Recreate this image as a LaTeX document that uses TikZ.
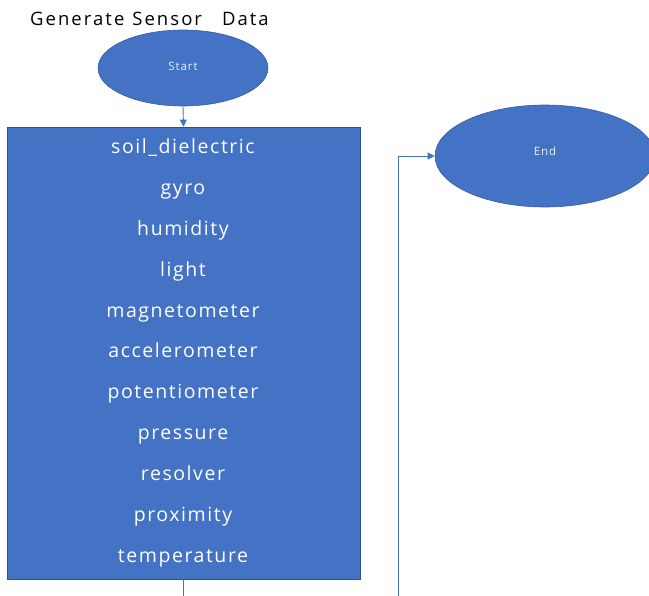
\documentclass[tikz,border=0pt]{standalone}
\usepackage{fontspec}
\setmainfont{Open Sans}
\newfontfamily\spacedfont{Open Sans}[LetterSpace=8]
\newfontfamily\titlefont{Open Sans}[LetterSpace=11]
\usetikzlibrary{arrows.meta,shapes.geometric}
\definecolor{boxblue}{HTML}{4472C4}
\definecolor{edgeblue}{HTML}{2F528F}
\definecolor{linkblue}{HTML}{4472C4}
\begin{document}
\begin{tikzpicture}[x=1pt,y=-1pt,
  term/.style={ellipse,fill=boxblue,draw=boxblue!80!black,line width=0.6pt,inner sep=0pt,text=white!90!boxblue,font=\spacedfont\fontsize{11.5}{13}\selectfont},
  sensortxt/.style={text=white,font=\spacedfont\fontsize{19.5}{22}\selectfont,anchor=base},
  link/.style={draw=linkblue,line width=0.9pt},
  tip/.style={-{Triangle[length=7pt,width=7pt]}}
]
\useasboundingbox (0,0) rectangle (649,596);
\node[anchor=base west,font=\titlefont\fontsize{18.5}{22}\selectfont,inner sep=0pt] (title) at (30,26) {Generate\hspace{8pt}Sensor\hspace{20pt}Data};
\node[term,minimum width=170pt,minimum height=76pt] (start) at (183,68) {\raisebox{1.5pt}[0.7em][0pt]{Start}};
\node[term,minimum width=220pt,minimum height=102pt] (end) at (545,156) {\raisebox{4.5pt}[0.7em][0pt]{End}};
\node[draw=edgeblue,fill=boxblue,line width=0.8pt,minimum width=353pt,minimum height=452pt,inner sep=0pt] (box) at (183.5,353) {};
\foreach \t [count=\i from 0] in {soil\_dielectric,gyro,humidity,light,magnetometer,accelerometer,potentiometer,pressure,resolver,proximity,temperature}
  \node[sensortxt] (s\i) at (183,154+40.8*\i) {\t};
\coordinate (bl) at (183,596);
\coordinate (br) at (398,596);
\coordinate (bend) at (398,156);
\draw[link,tip] (start.south) -- (box.north);
\draw[link] (box.south -| bl) -- (bl);
\draw[link,tip] (br) -- (bend) -- (end.west);
\end{tikzpicture}
\end{document}
